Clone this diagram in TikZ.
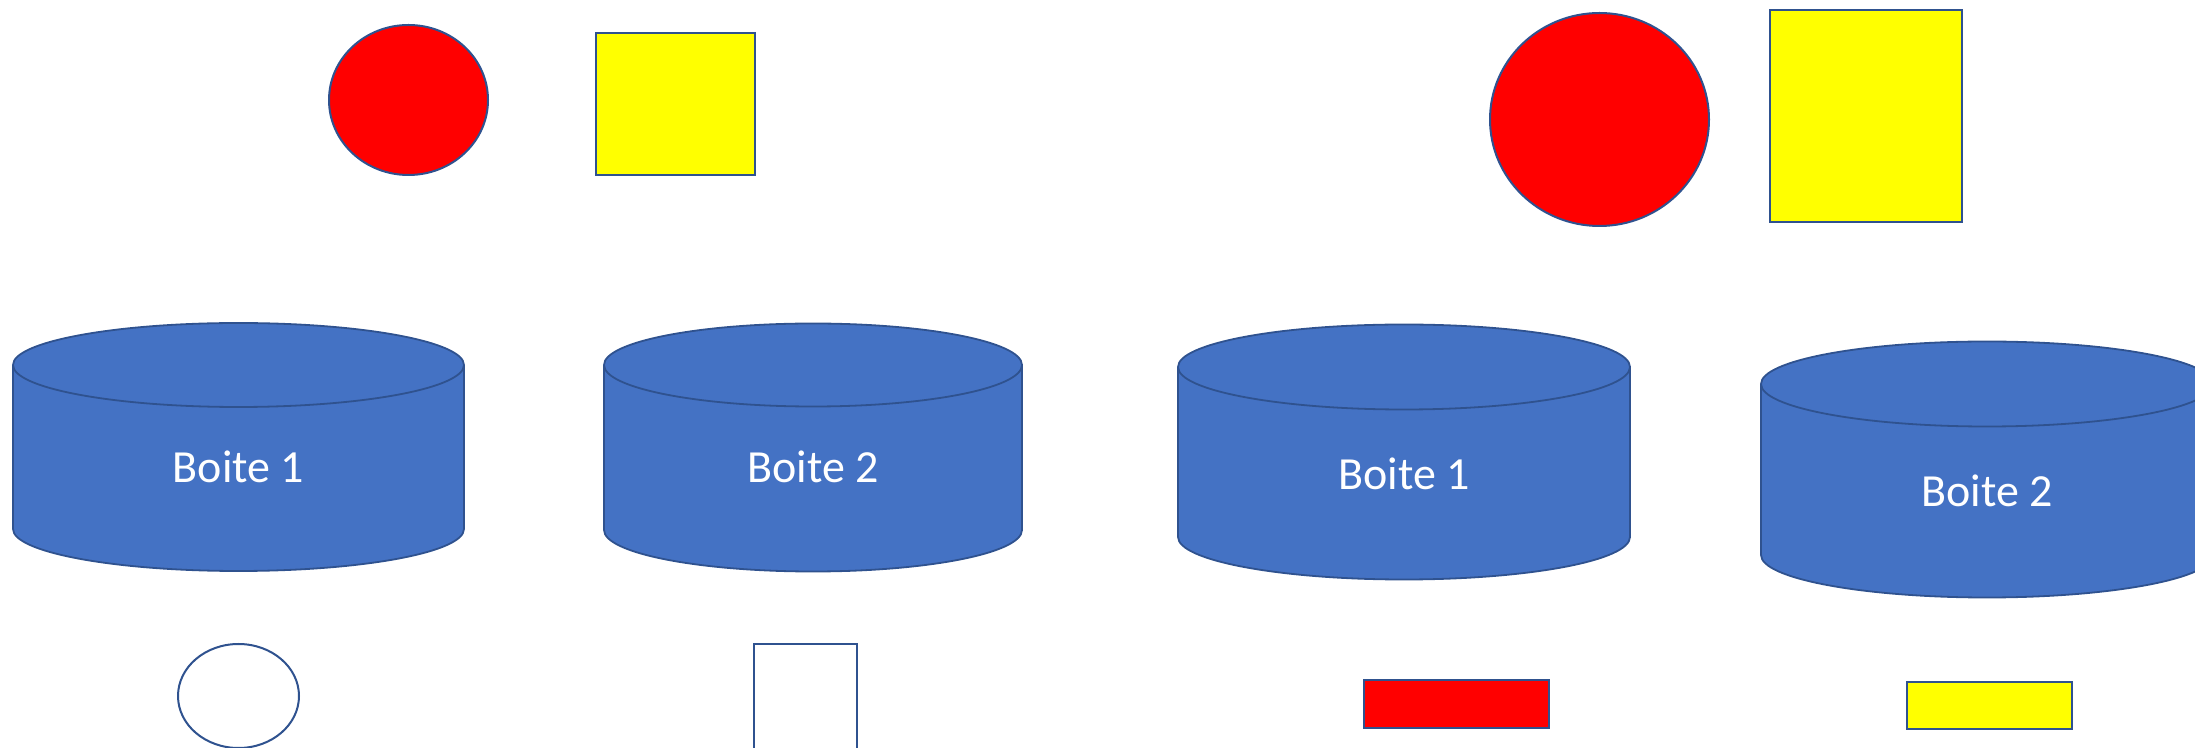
\documentclass[tikz,border=0pt]{standalone}
\usepackage{fontspec}
\setmainfont{Carlito}
\usetikzlibrary{shapes.geometric}
\definecolor{cylfill}{HTML}{4472C4}
\definecolor{edgeblue}{HTML}{2F528F}
\definecolor{pptred}{HTML}{FF0000}
\definecolor{pptyellow}{HTML}{FFFF00}
\tikzset{
  shp/.style={draw=edgeblue, line width=2pt, inner sep=0pt, outer sep=0pt},
  oval/.style={shp, ellipse},
  box/.style={shp, rectangle},
  cylbody/.style={fill=cylfill, draw=edgeblue, line width=1.8pt},
  cylrim/.style={draw=edgeblue, line width=1.8pt},
  lbl/.style={text=white, font=\fontsize{46}{50}\selectfont, anchor=base, inner sep=0pt}
}
\begin{document}
\begin{tikzpicture}[x=1pt,y=1pt]
\useasboundingbox (0,0) rectangle (2195,747);
% top row
\node[oval, fill=pptred, minimum width=159pt, minimum height=150pt] (c1) at (408.5,647) {};
\node[box, fill=pptyellow, minimum width=159pt, minimum height=142pt] (s1) at (675.5,643) {};
\node[oval, fill=pptred, minimum width=219pt, minimum height=213pt] (c2) at (1599.5,627.5) {};
\node[box, fill=pptyellow, minimum width=192pt, minimum height=212pt] (s2) at (1866,631) {};
% cylinders
% cylinder 1: cx 238.5 rx 225.5 top 382 bottom 218
\path[cylbody] (13,382) -- (13,218) arc (180:360:225.5pt and 42pt) -- (464,382) arc (0:180:225.5pt and 42pt) -- cycle;
\draw[cylrim] (13,382) arc (180:360:225.5pt and 42pt);
\node[lbl] (t1) at (238.5,264) {Boite 1};
% cylinder 2: cx 813 rx 209
\path[cylbody] (604,382) -- (604,217) arc (180:360:209pt and 41.5pt) -- (1022,382) arc (0:180:209pt and 41.5pt) -- cycle;
\draw[cylrim] (604,382) arc (180:360:209pt and 41.5pt);
\node[lbl] (t2) at (813,264) {Boite 2};
% cylinder 3: cx 1404 rx 226
\path[cylbody] (1178,380) -- (1178,210) arc (180:360:226pt and 42.5pt) -- (1630,380) arc (0:180:226pt and 42.5pt) -- cycle;
\draw[cylrim] (1178,380) arc (180:360:226pt and 42.5pt);
\node[lbl] (t3) at (1404,257) {Boite 1};
% cylinder 4: cx 1987 rx 226
\path[cylbody] (1761,363) -- (1761,192) arc (180:360:226pt and 42.5pt) -- (2213,363) arc (0:180:226pt and 42.5pt) -- cycle;
\draw[cylrim] (1761,363) arc (180:360:226pt and 42.5pt);
\node[lbl] (t4) at (1987,240) {Boite 2};
% bottom row
\node[oval, fill=white, minimum width=121pt, minimum height=104pt] (e3) at (238.5,51) {};
\node[box, fill=white, minimum width=103pt, minimum height=106pt] (s3) at (805.5,50) {};
\node[box, fill=pptred, minimum width=185pt, minimum height=48pt] (r3) at (1456.5,43) {};
\node[box, fill=pptyellow, minimum width=165pt, minimum height=47pt] (r4) at (1989.5,41.5) {};
\end{tikzpicture}
\end{document}
